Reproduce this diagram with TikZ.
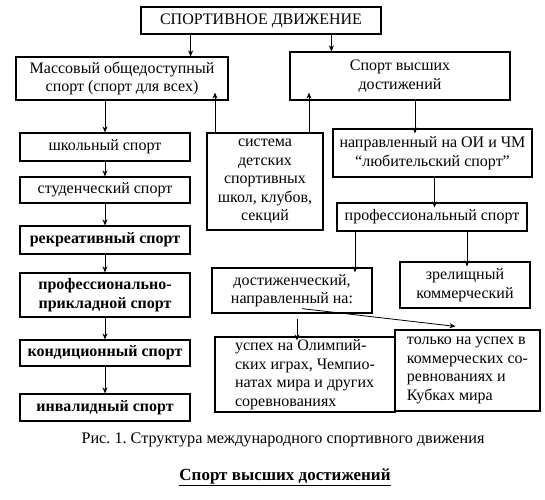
\documentclass[tikz,border=0pt]{standalone}
\usepackage{fontspec}
\setmainfont{Liberation Serif}
\usepackage{tikz}
\usetikzlibrary{arrows.meta,positioning}
\frenchspacing

\begin{document}
\begin{tikzpicture}[
  x=1pt,y=-1pt,
  font=\fontsize{16}{18.5}\selectfont,
  box/.style={draw,line width=1.2pt,align=center,inner sep=1pt},
  leftbox/.style={box,minimum width=170pt},
  heavy/.style={font=\fontsize{16}{18.5}\selectfont\bfseries},
  arr/.style={-{Stealth[length=6pt,width=5pt]},line width=0.8pt}
]
\useasboundingbox (0,0) rectangle (545,499);
% top level
\node[box,minimum width=240pt,minimum height=27pt] (root) at (261,20.5) {СПОРТИВНОЕ ДВИЖЕНИЕ};
\node[box,minimum width=212pt,minimum height=43pt] (mass) at (122,78.5) {Массовый общедоступный\\спорт (спорт для всех)};
\node[box,minimum width=220pt,minimum height=48pt] (elite) at (400,76) {Спорт высших\\достижений};
% left column
\node[leftbox,minimum height=28pt] (school) at (105,147) {школьный спорт};
\node[leftbox,minimum height=26pt] (student) at (105,190) {студенческий спорт};
\node[leftbox,heavy,minimum height=28pt] (recr) at (105,240) {рекреативный спорт};
\node[leftbox,heavy,minimum height=44pt] (applied) at (105,295) {профессионально-\\прикладной спорт};
\node[leftbox,heavy,minimum height=26pt] (cond) at (105,353) {кондиционный спорт};
\node[leftbox,heavy,minimum height=27pt] (disab) at (105,407.5) {инвалидный спорт};
% middle and right
\node[box,minimum width=116pt,minimum height=97pt] (youth) at (265,181.5) {система\\детских\\спортивных\\школ, клубов,\\секций};
\node[box,minimum width=199pt,minimum height=48pt] (olymp) at (432.5,153) {направленный на ОИ и ЧМ\\``любительский спорт''};
\node[box,minimum width=190pt,minimum height=28pt] (pro) at (432,217) {профессиональный спорт};
\node[box,minimum width=160pt,minimum height=45pt] (achv) at (292,290.5) {достиженческий,\\направленный на:};
\node[box,minimum width=130pt,minimum height=46pt] (show) at (465,285) {зрелищный\\коммерческий};
\node[box,minimum width=180pt,minimum height=75pt,align=left] (wins) at (305,374.5) {успех на Олимпий-\\ских играх, Чемпио-\\натах мира и других\\соревнованиях};
\node[box,minimum width=145pt,minimum height=81pt,align=left] (comm) at (467.5,370.5) {только на успех в\\коммерческих со-\\ревнованиях и\\Кубках мира};
% captions
\node[font=\fontsize{16.2}{18}\selectfont] (cap) at (283,440) {Рис. 1. Структура международного спортивного движения};
\node[font=\fontsize{17}{18}\selectfont\bfseries] (title) at (285,477) {\underline{Спорт высших достижений}};
% connectors
\draw[arr] (root.south -| mass.east) ++(-38,0) coordinate (r1) -- (r1 |- mass.north);
\draw[arr] (root.south -| elite.west) ++(42,0) coordinate (r2) -- (r2 |- elite.north);
\draw[arr] (mass.south -| school.north) -- (school.north);
\draw[arr] (school) -- (student);
\draw[arr] (student) -- (recr);
\draw[arr] (recr) -- (applied);
\draw[arr] (applied) -- (cond);
\draw[arr] (cond) -- (disab);
\draw[arr] (youth.north) ++(-50,0) coordinate (y1) -- ([yshift=8pt]y1 |- mass.south);
\draw[arr] (youth.north) ++(44,0) coordinate (y2) -- ([yshift=8pt]y2 |- elite.south);
\draw[arr] (elite.south) ++(15,0) coordinate (e1) -- ([yshift=-5pt]e1 |- olymp.north);
\draw[arr] (olymp.south) ++(2,0) coordinate (o1) -- ([yshift=-5pt]o1 |- pro.north);
\draw[arr] (pro.south) ++(-77,0) coordinate (p1) -- ([yshift=-5pt]p1 |- achv.north);
\draw[arr] (pro.south) ++(35,0) coordinate (p2) -- ([yshift=-5pt]p2 |- show.north);
\draw[arr] (achv.south) ++(5,5) coordinate (a1) -- ([yshift=-4pt]a1 |- wins.north);
\draw[arr] ([xshift=10pt,yshift=5pt]achv.south) -- ([xshift=-12pt,yshift=3pt]comm.north);
\end{tikzpicture}
\end{document}
